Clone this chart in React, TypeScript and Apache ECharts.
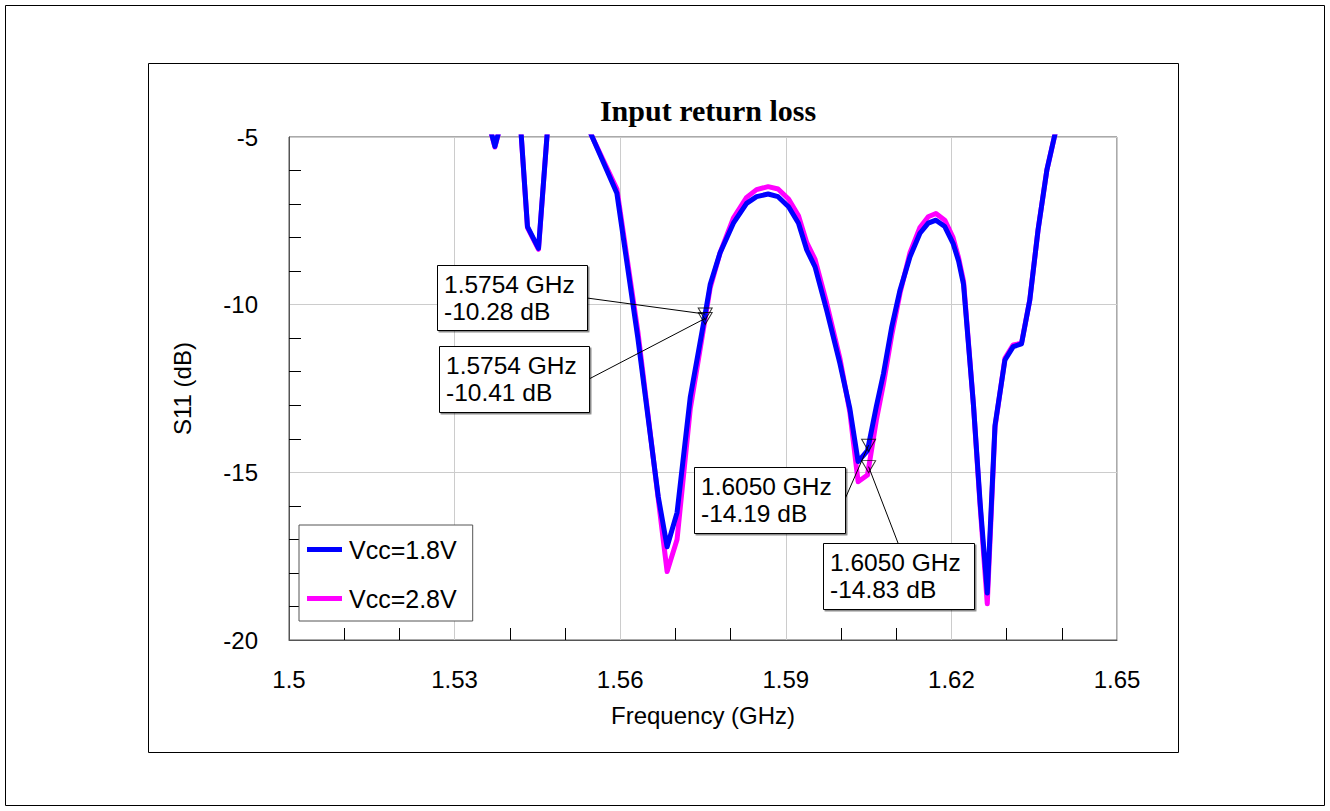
import React, { useEffect, useRef } from 'react';
import * as echarts from 'echarts';

// Frequency points (GHz)
const freqGHz = [
  1.5, 1.52, 1.534, 1.5362, 1.5373, 1.5384, 1.54, 1.5418, 1.5432, 1.5452, 1.547, 1.55, 1.553, 1.5548,
  1.5594, 1.5632, 1.5669, 1.5685, 1.5703, 1.5727, 1.5754, 1.5763, 1.5781, 1.5805, 1.5829,
  1.5847, 1.5868, 1.5886, 1.5905, 1.5923, 1.5938, 1.5953, 1.5974, 1.5998, 1.6016, 1.6031, 1.6048,
  1.6064, 1.6077, 1.6092, 1.6107, 1.6125, 1.6143, 1.6158, 1.6172, 1.6188, 1.6203, 1.6213, 1.6222,
  1.624, 1.6252, 1.6265, 1.6279, 1.6297, 1.6312, 1.6327, 1.6342, 1.6357, 1.6373, 1.6388, 1.64,
  1.645, 1.65,
];

// S11 (dB), Vcc = 1.8 V
const s11Vcc18 = [
  -2.0, -2.5, -3.8, -4.6, -5.28, -4.6, -3.8, -4.3, -7.67, -8.32, -4.4, -3.6, -4.2, -4.95,
  -6.68, -11.0, -15.73, -17.22, -16.2, -12.75, -10.28, -9.4, -8.45, -7.57, -6.98,
  -6.78, -6.7, -6.78, -7.08, -7.57, -8.37, -8.87, -10.16, -11.75, -13.1, -14.68, -14.35,
  -13.04, -12.05, -10.66, -9.56, -8.57, -7.87, -7.57, -7.48, -7.67, -8.17, -8.7, -9.4,
  -13.0, -15.9, -18.6, -13.6, -11.65, -11.25, -11.17, -9.86, -7.77, -5.98, -4.89, -4.2,
  -3.0, -2.5,
];

// S11 (dB), Vcc = 2.8 V
const s11Vcc28 = [
  -2.0, -2.5, -3.8, -4.6, -5.3, -4.6, -3.8, -4.3, -7.7, -8.35, -4.4, -3.6, -4.2, -4.95,
  -6.55, -10.8, -15.8, -17.96, -17.0, -13.1, -10.41, -9.5, -8.45, -7.42, -6.8,
  -6.57, -6.48, -6.55, -6.85, -7.35, -8.15, -8.65, -9.95, -11.6, -13.2, -15.28, -15.08,
  -13.45, -12.35, -10.9, -9.65, -8.45, -7.7, -7.38, -7.28, -7.48, -8.0, -8.6, -9.3,
  -13.0, -16.0, -18.92, -13.65, -11.6, -11.2, -11.15, -9.86, -7.77, -5.98, -4.89, -4.2,
  -3.0, -2.5,
];

const seriesNames = ['Vcc=1.8V', 'Vcc=2.8V'];

// Marker readouts
const markerFreq = [1.5754, 1.5754, 1.605, 1.605];
const markerVal = [-10.28, -10.41, -14.19, -14.83];
const markerText = [
  '1.5754 GHz\n-10.28 dB',
  '1.5754 GHz\n-10.41 dB',
  '1.6050 GHz\n-14.19 dB',
  '1.6050 GHz\n-14.83 dB',
];

// Annotation box layout (pixels)
const boxLayout = [
  { x: 437, y: 265, w: 150, h: 65, ax: 587, ay: 298 },
  { x: 439, y: 346, w: 150, h: 66, ax: 589, ay: 379 },
  { x: 694, y: 467, w: 151, h: 66, ax: 845, ay: 499 },
  { x: 823, y: 543, w: 151, h: 66, ax: 898, ay: 543 },
];

const SANS = '"Liberation Sans", Arial, sans-serif';
const SERIF = '"Liberation Serif", "Times New Roman", serif';

export default function App() {
  const ref = useRef<HTMLDivElement>(null);

  useEffect(() => {
    if (!ref.current) return;
    const chart = echarts.init(ref.current, undefined, { renderer: 'svg' });

    const blue = freqGHz.map((f, i) => [f, s11Vcc18[i]]);
    const mag = freqGHz.map((f, i) => [f, s11Vcc28[i]]);
    const markers = markerFreq.map((f, i) => [f, markerVal[i]]);

    chart.setOption({
      animation: false,
      backgroundColor: '#ffffff',
      title: {
        text: 'Input return loss',
        left: 703,
        textAlign: 'center',
        top: 90,
        textStyle: { fontFamily: SERIF, fontWeight: 'bold', fontSize: 30, color: '#000' },
      },
      grid: {
        left: 289,
        top: 137,
        width: 828,
        height: 503,
        show: true,
        borderColor: '#555',
        borderWidth: 1,
        backgroundColor: 'transparent',
      },
      legend: {
        data: seriesNames,
        orient: 'vertical',
        left: 299,
        top: 525,
        icon: 'rect',
        itemWidth: 35,
        itemHeight: 5,
        itemGap: 24,
        padding: [12, 16, 10, 8],
        backgroundColor: '#fff',
        borderColor: '#555',
        borderWidth: 1,
        textStyle: { fontFamily: SANS, fontSize: 25, color: '#000', padding: [0, 0, 0, 2] },
      },
      xAxis: {
        type: 'value',
        min: 1.5,
        max: 1.65,
        interval: 0.03,
        name: 'Frequency (GHz)',
        nameLocation: 'middle',
        nameGap: 63,
        nameTextStyle: { fontFamily: SANS, fontSize: 24, color: '#000' },
        axisLine: { show: true, lineStyle: { color: '#555' } },
        axisTick: { show: false, inside: true },
        minorTick: { show: true, splitNumber: 3, length: 12, lineStyle: { color: '#000', width: 1 } },
        axisLabel: { fontFamily: SANS, fontSize: 24, color: '#000', margin: 27 },
        splitLine: { show: true, lineStyle: { color: '#cccccc', width: 1 } },
      },
      yAxis: {
        type: 'value',
        min: -20,
        max: -5,
        interval: 5,
        name: 'S11 (dB)',
        nameLocation: 'middle',
        nameGap: 95,
        nameTextStyle: { fontFamily: SANS, fontSize: 24, color: '#000' },
        axisLine: { show: true, lineStyle: { color: '#555' } },
        axisTick: { show: false, inside: true },
        minorTick: { show: true, splitNumber: 5, length: 12, lineStyle: { color: '#000', width: 1 } },
        axisLabel: { fontFamily: SANS, fontSize: 24, color: '#000', margin: 31 },
        splitLine: { show: true, lineStyle: { color: '#cccccc', width: 1 } },
      },
      series: [
        {
          name: seriesNames[1],
          type: 'line',
          data: mag,
          showSymbol: false,
          color: '#ff00ff',
          lineStyle: { width: 5, color: '#ff00ff', join: 'round' },
          z: 2,
          clip: true,
        },
        {
          name: seriesNames[0],
          type: 'line',
          data: blue,
          showSymbol: false,
          color: '#0000ff',
          lineStyle: { width: 5, color: '#0000ff', join: 'round' },
          z: 3,
          clip: true,
        },
        {
          name: 'markers',
          type: 'scatter',
          data: markers,
          symbol: 'triangle',
          symbolRotate: 180,
          symbolSize: [14, 12],
          itemStyle: { color: 'rgba(255,255,255,0)', borderColor: '#000', borderWidth: 1 },
          z: 5,
          silent: true,
        },
      ],
    });

    const graphic: any[] = [
      {
        type: 'rect',
        shape: { x: 5.5, y: 5.5, width: 1319, height: 800 },
        style: { fill: 'none', stroke: '#000', lineWidth: 1 },
        z: 0,
        silent: true,
      },
      {
        type: 'rect',
        shape: { x: 148.5, y: 63.5, width: 1030, height: 689 },
        style: { fill: 'none', stroke: '#000', lineWidth: 1 },
        z: 0,
        silent: true,
      },
    ];

    markers.forEach((m, i) => {
      const p = chart.convertToPixel({ xAxisIndex: 0, yAxisIndex: 0 }, m) as number[];
      const b = boxLayout[i];
      graphic.push({
        type: 'line',
        shape: { x1: b.ax, y1: b.ay, x2: p[0], y2: p[1] },
        style: { stroke: '#000', lineWidth: 1 },
        z: 10,
        silent: true,
      });
      graphic.push({
        type: 'rect',
        shape: { x: b.x + 0.5, y: b.y + 0.5, width: b.w, height: b.h },
        style: {
          fill: '#fff',
          stroke: '#000',
          lineWidth: 1,
          shadowColor: 'rgba(0,0,0,0.45)',
          shadowOffsetX: 1.5,
          shadowOffsetY: 1.5,
          shadowBlur: 0,
        },
        z: 11,
        silent: true,
      });
      graphic.push({
        type: 'text',
        x: b.x + 7,
        y: b.y + b.h / 2,
        style: {
          text: markerText[i],
          font: '24.5px ' + SANS,
          fill: '#000',
          align: 'left',
          verticalAlign: 'middle',
          lineHeight: 27,
        },
        z: 12,
        silent: true,
      });
    });

    chart.setOption({ graphic });

    return () => {
      chart.dispose();
    };
  }, []);

  return (
    <div
      ref={ref}
      style={{ position: 'absolute', left: 0, top: 0, width: 1330, height: 811, background: '#fff' }}
    />
  );
}
